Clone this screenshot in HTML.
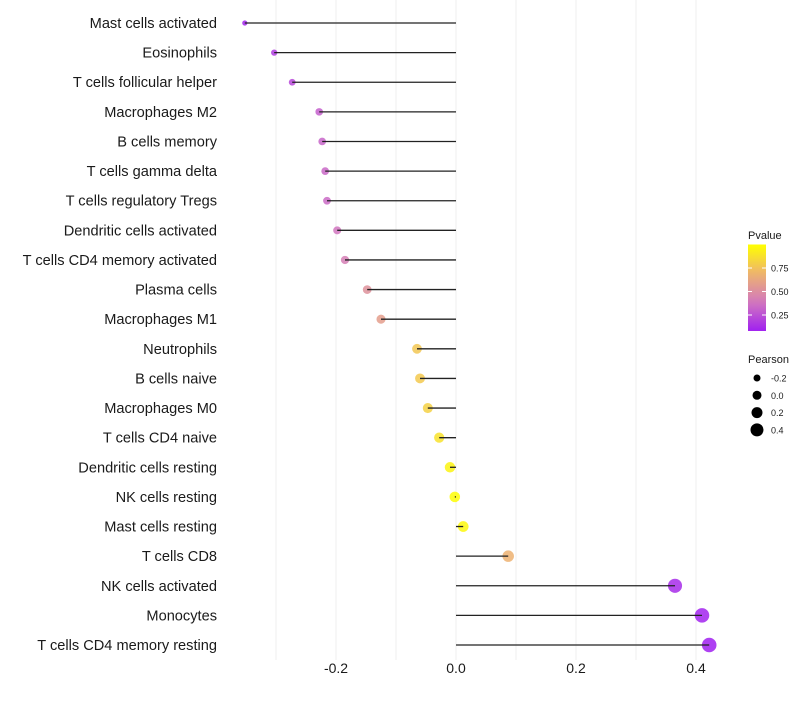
<!DOCTYPE html>
<html><head><meta charset="utf-8"><style>
body{margin:0;background:#fff;font-family:"Liberation Sans",sans-serif}
</style></head><body>
<svg id="c" width="800" height="700" xmlns="http://www.w3.org/2000/svg"></svg>
<script>
const categories=["Mast cells activated","Eosinophils","T cells follicular helper","Macrophages M2","B cells memory","T cells gamma delta","T cells regulatory  Tregs","Dendritic cells activated","T cells CD4 memory activated","Plasma cells","Macrophages M1","Neutrophils","B cells naive","Macrophages M0","T cells CD4 naive","Dendritic cells resting","NK cells resting","Mast cells resting","T cells CD8","NK cells activated","Monocytes","T cells CD4 memory resting"];
const pearson=[-0.352,-0.303,-0.273,-0.228,-0.223,-0.218,-0.215,-0.198,-0.185,-0.148,-0.125,-0.065,-0.06,-0.047,-0.028,-0.01,-0.002,0.012,0.087,0.365,0.41,0.422];
const pvalues=[0.1,0.18,0.22,0.3,0.32,0.33,0.34,0.38,0.42,0.52,0.58,0.77,0.78,0.81,0.88,0.95,0.99,0.97,0.68,0.12,0.09,0.08];
const xTicks=[-0.2,0,0.2,0.4];
const xTickLabels=["-0.2","0.0","0.2","0.4"];
const gridVals=[-0.3,-0.2,-0.1,0,0.1,0.2,0.3,0.4];
const pTicks=[0.25,0.5,0.75];
const sizeLegend=[-0.2,0,0.2,0.4];
const NS="http://www.w3.org/2000/svg";
const svg=document.getElementById('c');
function el(t,a,p){const e=document.createElementNS(NS,t);for(const k in a)e.setAttribute(k,a[k]);(p||svg).appendChild(e);return e;}
const x=v=>456+v*600;
const y=i=>23+i*(622/21);
const pMin=0.08,pMax=1.0;
const stops=[[160,32,240],[210,120,190],[238,180,110],[255,255,0]];
function col(p){let t=Math.max(0,Math.min(1,(p-pMin)/(pMax-pMin)))*3;let i=Math.min(2,Math.floor(t));let f=t-i;const a=stops[i],b=stops[i+1];return `rgb(${a.map((v,k)=>Math.round(v+(b[k]-v)*f)).join(',')})`;}
const rad=v=>Math.sqrt(Math.max(3,28+60*v));
const lrad=v=>4.5+5*v;
gridVals.forEach(g=>{const l=el('line',{x1:x(g),x2:x(g),y1:0,y2:660,stroke:'#efefef','stroke-width':1});

});
categories.forEach((c,i)=>{
const t=el('text',{x:217,y:y(i)+5,'text-anchor':'end','font-size':14.6,fill:'#1a1a1a'});t.textContent=c;


const d=el('circle',{cx:x(pearson[i]),cy:y(i),r:rad(pearson[i]),fill:col(pvalues[i]),'fill-opacity':0.85});


const l=el('line',{x1:x(0),x2:x(pearson[i]),y1:y(i),y2:y(i),stroke:'#222','stroke-width':1.3});


});
xTicks.forEach((v,i)=>{const t=el('text',{x:x(v),y:673,'text-anchor':'middle','font-size':14,fill:'#1a1a1a'});t.textContent=xTickLabels[i];

});
const lt=el('text',{x:748,y:239,'font-size':11,fill:'#1a1a1a'});lt.textContent='Pvalue';


const defs=el('defs',{});const lg=el('linearGradient',{id:'g',x1:0,y1:1,x2:0,y2:0},defs);
for(let k=0;k<=10;k++){const p=pMin+(pMax-pMin)*k/10;el('stop',{offset:k/10,'stop-color':col(p)},lg);}
const py=p=>338.5-p*94;
const bar=el('rect',{x:748,y:py(pMax),width:18,height:py(pMin)-py(pMax),fill:'url(#g)'});


pTicks.forEach(p=>{el('line',{x1:748,x2:752,y1:py(p),y2:py(p),stroke:'#fff'});el('line',{x1:762,x2:766,y1:py(p),y2:py(p),stroke:'#fff'});
const t=el('text',{x:771,y:py(p)+3.5,'font-size':9,fill:'#1a1a1a'});t.textContent=p.toFixed(2);

});
const st=el('text',{x:748,y:363,'font-size':11,fill:'#1a1a1a'});st.textContent='Pearson';


sizeLegend.forEach((v,i)=>{const cy=378+i*17.3;el('circle',{cx:757,cy:cy,r:lrad(v),fill:'#000'});
const t=el('text',{x:771,y:cy+3.5,'font-size':9,fill:'#1a1a1a'});t.textContent=v===0?'0.0':String(v);

});
</script>
</body></html>
